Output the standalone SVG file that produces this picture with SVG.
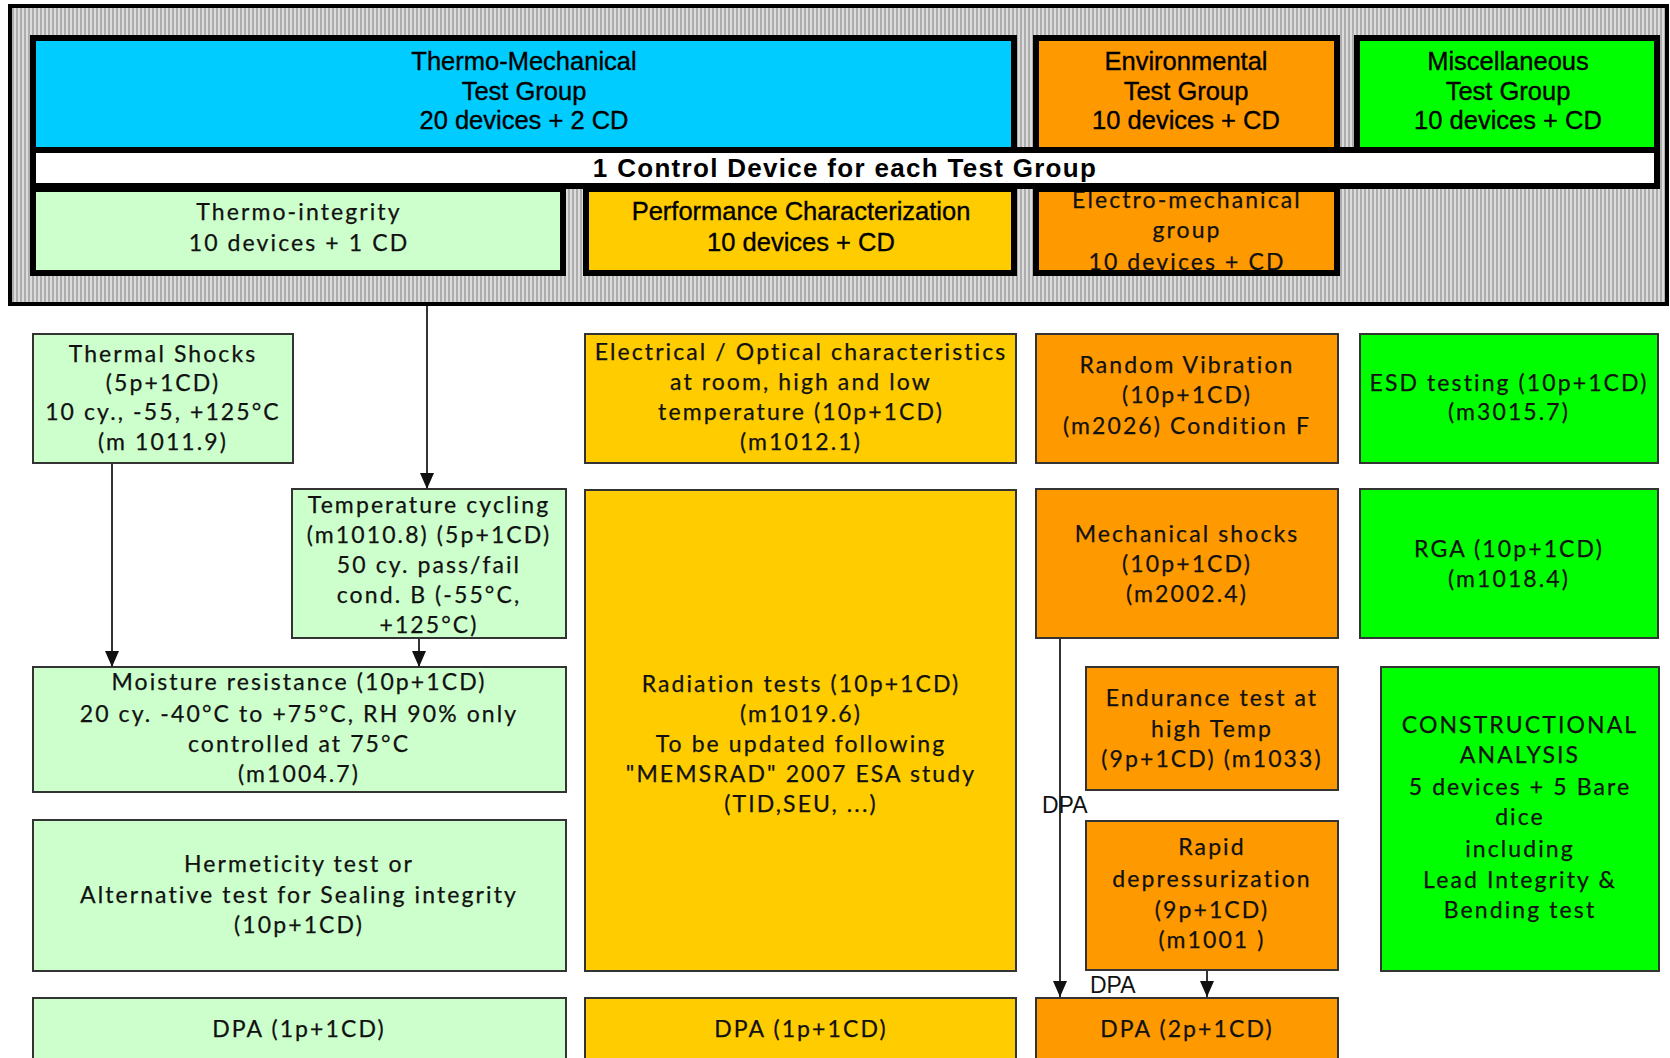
<svg xmlns="http://www.w3.org/2000/svg" width="1670" height="1058" viewBox="0 0 1670 1058">
<style>
.hdr{font-family:"Liberation Sans",Arial,sans-serif;font-size:25.5px;text-anchor:middle;fill:#000;stroke:#000;stroke-width:0.35px}
.bar{font-family:"Liberation Sans",Arial,sans-serif;font-size:26px;font-weight:bold;letter-spacing:1.3px;text-anchor:middle;fill:#000}
.ft{font-family:Lato,"Liberation Sans",sans-serif;font-size:23px;letter-spacing:2.1px;text-anchor:middle;fill:#111;stroke:#111;stroke-width:0.25px}
.lbl{font-family:"Liberation Sans",Arial,sans-serif;font-size:23px;fill:#111}
.big{stroke:#000;stroke-width:6}
.box{stroke:#333;stroke-width:2}
.lg{fill:#CCFFCC}.yl{fill:#FFCC00}.or{fill:#FF9900}.gr{fill:#00FF00}.bl{fill:#00CCFF}
.conn{stroke:#333;stroke-width:2;fill:none;marker-end:url(#ah)}
</style>
<defs>
<pattern id="hatch" width="4" height="4" patternUnits="userSpaceOnUse">
<rect width="4" height="4" fill="#dcdcdc"/>
<rect width="2" height="4" fill="#adadad"/>
</pattern>
<marker id="ah" viewBox="0 0 16 14" refX="16" refY="7" markerWidth="16" markerHeight="14" markerUnits="userSpaceOnUse" orient="auto">
<path d="M0,0 L16,7 L0,14 z" fill="#111"/>
</marker>
<clipPath id="clipEM"><rect x="1039" y="192" width="295" height="78"/></clipPath>
</defs>
<rect width="1670" height="1058" fill="#fff"/>

<g id="frame">
<rect x="10" y="6" width="1657" height="298" fill="url(#hatch)" stroke="#000" stroke-width="4"/>
</g>

<g id="thermo-mechanical">
<rect class="big bl" x="33" y="38" width="981" height="112"/>
<text class="hdr" x="524" y="70">Thermo-Mechanical</text>
<text class="hdr" x="524" y="100">Test Group</text>
<text class="hdr" x="524" y="129">20 devices + 2 CD</text>
</g>
<g id="environmental">
<rect class="big or" x="1036" y="38" width="301" height="112"/>
<text class="hdr" x="1186" y="70">Environmental</text>
<text class="hdr" x="1186" y="100">Test Group</text>
<text class="hdr" x="1186" y="129">10 devices + CD</text>
</g>
<g id="miscellaneous">
<rect class="big gr" x="1357" y="38" width="300" height="112"/>
<text class="hdr" x="1508" y="70">Miscellaneous</text>
<text class="hdr" x="1508" y="100">Test Group</text>
<text class="hdr" x="1508" y="129">10 devices + CD</text>
</g>
<g id="thermo-integrity">
<rect class="big lg" x="33" y="189" width="530" height="84"/>
<text class="ft" x="299" y="220">Thermo-integrity</text>
<text class="ft" x="299" y="251">10 devices + 1 CD</text>
</g>
<g id="performance">
<rect class="big yl" x="586" y="189" width="428" height="84"/>
<text class="hdr" x="801" y="220">Performance Characterization</text>
<text class="hdr" x="801" y="251">10 devices + CD</text>
</g>
<g id="electro-mechanical">
<rect class="big or" x="1036" y="189" width="301" height="84"/>
<g clip-path="url(#clipEM)">
<text class="ft" x="1187" y="208">Electro-mechanical</text>
<text class="ft" x="1187" y="238">group</text>
<text class="ft" x="1187" y="270">10 devices + CD</text>
</g>
</g>
<g id="control-bar">
<rect x="33" y="150" width="1624" height="36" fill="#fff" stroke="#000" stroke-width="6"/>
<text class="bar" x="845" y="177">1 Control Device for each Test Group</text>
</g>

<g id="thermal-shocks">
<rect class="box lg" x="33" y="334" width="260" height="129"/>
<text class="ft" x="163" y="362">Thermal Shocks</text>
<text class="ft" x="163" y="391">(5p+1CD)</text>
<text class="ft" x="163" y="420">10 cy., -55, +125°C</text>
<text class="ft" x="163" y="450">(m 1011.9)</text>
</g>
<g id="temperature-cycling">
<rect class="box lg" x="292" y="489" width="274" height="149"/>
<text class="ft" x="429" y="513">Temperature cycling</text>
<text class="ft" x="429" y="543">(m1010.8) (5p+1CD)</text>
<text class="ft" x="429" y="573">50 cy. pass/fail</text>
<text class="ft" x="429" y="603">cond. B (-55°C,</text>
<text class="ft" x="429" y="633">+125°C)</text>
</g>
<g id="moisture">
<rect class="box lg" x="33" y="667" width="533" height="125"/>
<text class="ft" x="299" y="690">Moisture resistance (10p+1CD)</text>
<text class="ft" x="299" y="722">20 cy. -40°C to +75°C, RH 90% only</text>
<text class="ft" x="299" y="752">controlled at 75°C</text>
<text class="ft" x="299" y="782">(m1004.7)</text>
</g>
<g id="hermeticity">
<rect class="box lg" x="33" y="820" width="533" height="151"/>
<text class="ft" x="299" y="872">Hermeticity test or</text>
<text class="ft" x="299" y="903">Alternative test for Sealing integrity</text>
<text class="ft" x="299" y="933">(10p+1CD)</text>
</g>
<g id="dpa-green">
<rect class="box lg" x="33" y="998" width="533" height="70"/>
<text class="ft" x="299" y="1037">DPA (1p+1CD)</text>
</g>

<g id="electrical">
<rect class="box yl" x="585" y="334" width="431" height="129"/>
<text class="ft" x="801" y="360">Electrical / Optical characteristics</text>
<text class="ft" x="801" y="390">at room, high and low</text>
<text class="ft" x="801" y="420">temperature (10p+1CD)</text>
<text class="ft" x="801" y="450">(m1012.1)</text>
</g>
<g id="radiation">
<rect class="box yl" x="585" y="490" width="431" height="481"/>
<text class="ft" x="801" y="692">Radiation tests (10p+1CD)</text>
<text class="ft" x="801" y="722">(m1019.6)</text>
<text class="ft" x="801" y="752">To be updated  following</text>
<text class="ft" x="801" y="782">"MEMSRAD" 2007 ESA study</text>
<text class="ft" x="801" y="812">(TID,SEU, ...)</text>
</g>
<g id="dpa-yellow">
<rect class="box yl" x="585" y="998" width="431" height="70"/>
<text class="ft" x="801" y="1037">DPA (1p+1CD)</text>
</g>

<g id="random-vibration">
<rect class="box or" x="1036" y="334" width="302" height="129"/>
<text class="ft" x="1187" y="373">Random Vibration</text>
<text class="ft" x="1187" y="403">(10p+1CD)</text>
<text class="ft" x="1187" y="434">(m2026) Condition F</text>
</g>
<g id="mechanical-shocks">
<rect class="box or" x="1036" y="489" width="302" height="149"/>
<text class="ft" x="1187" y="542">Mechanical shocks</text>
<text class="ft" x="1187" y="572">(10p+1CD)</text>
<text class="ft" x="1187" y="602">(m2002.4)</text>
</g>
<g id="endurance">
<rect class="box or" x="1086" y="667" width="252" height="123"/>
<text class="ft" x="1212" y="706">Endurance test at</text>
<text class="ft" x="1212" y="737">high Temp</text>
<text class="ft" x="1212" y="767">(9p+1CD) (m1033)</text>
</g>
<g id="rapid-depressurization">
<rect class="box or" x="1086" y="821" width="252" height="149"/>
<text class="ft" x="1212" y="855">Rapid</text>
<text class="ft" x="1212" y="887">depressurization</text>
<text class="ft" x="1212" y="918">(9p+1CD)</text>
<text class="ft" x="1212" y="948">(m1001 )</text>
</g>
<g id="dpa-orange">
<rect class="box or" x="1036" y="998" width="302" height="70"/>
<text class="ft" x="1187" y="1037">DPA (2p+1CD)</text>
</g>

<g id="esd">
<rect class="box gr" x="1360" y="334" width="298" height="129"/>
<text class="ft" x="1509" y="391">ESD testing (10p+1CD)</text>
<text class="ft" x="1509" y="420">(m3015.7)</text>
</g>
<g id="rga">
<rect class="box gr" x="1360" y="489" width="298" height="149"/>
<text class="ft" x="1509" y="557">RGA (10p+1CD)</text>
<text class="ft" x="1509" y="587">(m1018.4)</text>
</g>
<g id="constructional">
<rect class="box gr" x="1381" y="667" width="278" height="304"/>
<text class="ft" x="1520" y="733">CONSTRUCTIONAL</text>
<text class="ft" x="1520" y="763">ANALYSIS</text>
<text class="ft" x="1520" y="795">5 devices + 5 Bare</text>
<text class="ft" x="1520" y="825">dice</text>
<text class="ft" x="1520" y="857">including</text>
<text class="ft" x="1520" y="888">Lead Integrity &amp;</text>
<text class="ft" x="1520" y="918">Bending test</text>
</g>

<g id="connectors">
<path class="conn" d="M427,306 V489"/>
<path class="conn" d="M112,463 V667"/>
<path class="conn" d="M419,638 V667"/>
<path class="conn" d="M1060,638 V997"/>
<path class="conn" d="M1207,970 V997"/>
<text class="lbl" x="1042" y="813">DPA</text>
<text class="lbl" x="1090" y="993">DPA</text>
</g>
</svg>
